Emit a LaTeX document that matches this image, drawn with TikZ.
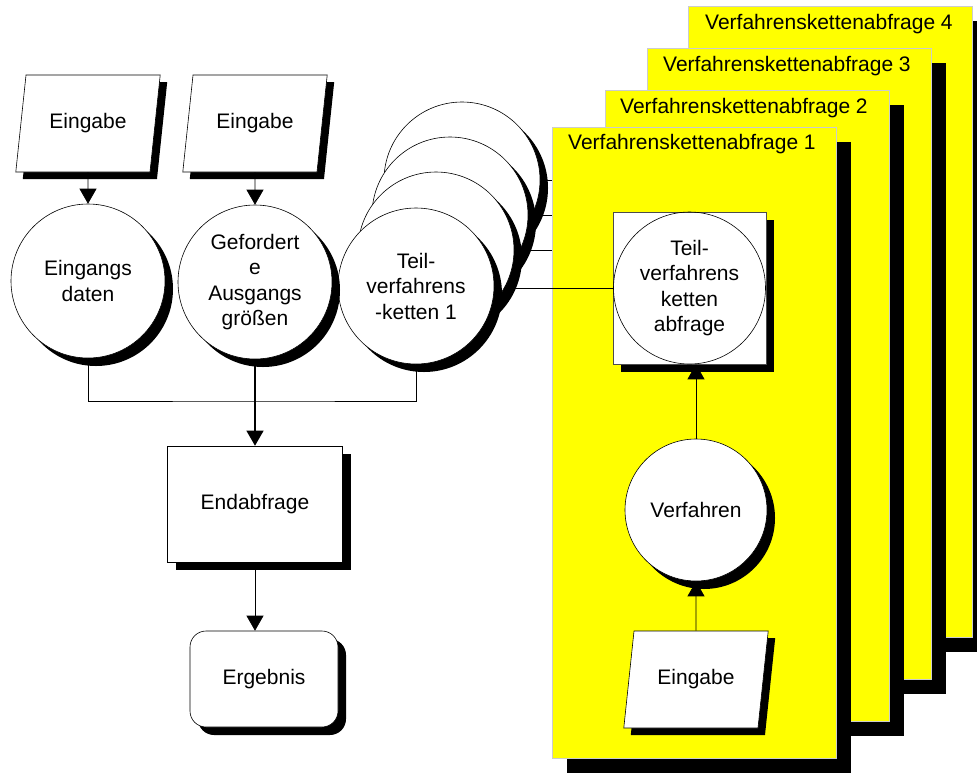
\documentclass[tikz,border=0pt]{standalone}
\usepackage{fontspec}
\setmainfont{Liberation Sans}
\usetikzlibrary{shapes.geometric, shadows, arrows.meta, calc}

\definecolor{panelyellow}{RGB}{255,255,0}

\pgfdeclarelayer{far}
\pgfdeclarelayer{near}
\pgfdeclarelayer{wire}
\pgfsetlayers{far,near,wire,main}

\tikzset{
  shade8/.style={drop shadow={shadow xshift=8pt, shadow yshift=-8pt, fill=black, opacity=1}},
  shade7/.style={drop shadow={shadow xshift=7pt, shadow yshift=-7pt, fill=black, opacity=1}},
  shade15/.style={drop shadow={shadow xshift=15pt, shadow yshift=-15pt, fill=black, opacity=1}},
  txt/.style={font=\fontsize{21}{25.5}\selectfont, align=center, inner sep=0pt},
  datanode/.style={txt, circle, draw, fill=white, line width=0.6pt, minimum size=154pt, shade8},
  stacknode/.style={txt, circle, draw, fill=white, line width=0.6pt, minimum size=156pt, shade8},
  inputbox/.style={txt, trapezium, trapezium left angle=72, trapezium right angle=108,
    trapezium stretches=true, minimum width=145pt, minimum height=97pt,
    draw, fill=white, line width=0.6pt, shade7},
  procbox/.style={txt, rectangle, draw=black!70, fill=white, line width=0.6pt, shade8},
  resultbox/.style={txt, rectangle, rounded corners=16pt, draw, fill=white, line width=0.6pt, shade8},
  panel/.style={rectangle, draw=black!20, fill=panelyellow, line width=0.5pt,
    minimum width=284pt, minimum height=631pt, anchor=north west, shade15},
  paneltitle/.style={txt, anchor=west},
  link/.style={draw, line width=0.7pt},
  flow/.style={link, -{Triangle[width=17pt,length=15pt]}},
}

\begin{document}
\begin{tikzpicture}[x=1pt, y=-1pt]
\useasboundingbox (0,0) rectangle (977,772);

% stacked partial-chain circles, back to front
\node[stacknode] (t4) at (462,180) {};
\node[stacknode] (t3) at (450,215) {};
\node[stacknode] (t2) at (436,250) {};
\node[stacknode] (t1) at (416,286) {Teil-\\verfahrens\\-ketten 1};

% rear query panels and their feeds
\begin{pgfonlayer}{far}
  \node[panel] (p4) at (688,6) {};
  \node[paneltitle] (pt4) at ($(p4.north west)+(17,18)$) {Verfahrenskettenabfrage 4};
  \node[panel] (p3) at (647,48) {};
  \node[paneltitle] (pt3) at ($(p3.north west)+(16,18)$) {Verfahrenskettenabfrage 3};
  \node[panel] (p2) at (605,90) {};
  \node[paneltitle] (pt2) at ($(p2.north west)+(15,18)$) {Verfahrenskettenabfrage 2};
  \draw[link] (t4.east) -- (t4.east -| p4.west);
  \draw[link] (t3.east) -- (t3.east -| p3.west);
  \draw[link] (t2.east) -- (t2.east -| p2.west);
\end{pgfonlayer}

% front query panel
\begin{pgfonlayer}{near}
  \node[panel] (p1) at (552,127) {};
  \node[paneltitle] (pt1) at ($(p1.north west)+(16,17)$) {Verfahrenskettenabfrage 1};
\end{pgfonlayer}

% contents of the front panel
\node[procbox, minimum width=153pt, minimum height=152pt] (sq) at (689.5,288) {};
\node[txt, circle, draw, line width=0.6pt, minimum size=152pt] (sqc) at (689.5,288)
  {Teil-\\verfahrens\\ketten\\abfrage};
\node[datanode, minimum size=142pt, shade7] (verf) at (696,510) {Verfahren};
\node[inputbox] (in3) at (696,679.5) {Eingabe};

\draw[flow] (in3.north) -- (verf.south);
\draw[flow] (verf.north) -- (verf.north |- sq.south);

\begin{pgfonlayer}{wire}
  \draw[link] (sq.west) -- (sq.west -| t1.east);
\end{pgfonlayer}

% left column: inputs, data, final query, result
\node[inputbox] (in1) at (88,123.5) {Eingabe};
\node[inputbox] (in2) at (255,123.5) {Eingabe};
\node[datanode] (c1) at (88,281) {Eingangs\\daten};
\node[datanode] (c2) at (255,282) {Gefordert\\e\\Ausgangs\\größen};
\node[procbox, draw=black, minimum width=175pt, minimum height=116pt] (endq) at (255,504) {Endabfrage};
\node[resultbox, minimum width=148pt, minimum height=96pt] (res) at (264,679) {Ergebnis};

\coordinate (merge) at (255,401);

\draw[flow] (in1.south) -- (c1.north);
\draw[flow] (in2.south) -- (c2.north);
\draw[link] (c1.south) |- (merge) -| (t1.south);
\draw[flow, line width=1.1pt] (c2.south) -- (endq.north);
\draw[flow] (endq.south) -- (endq.south |- res.north);

\end{tikzpicture}
\end{document}
